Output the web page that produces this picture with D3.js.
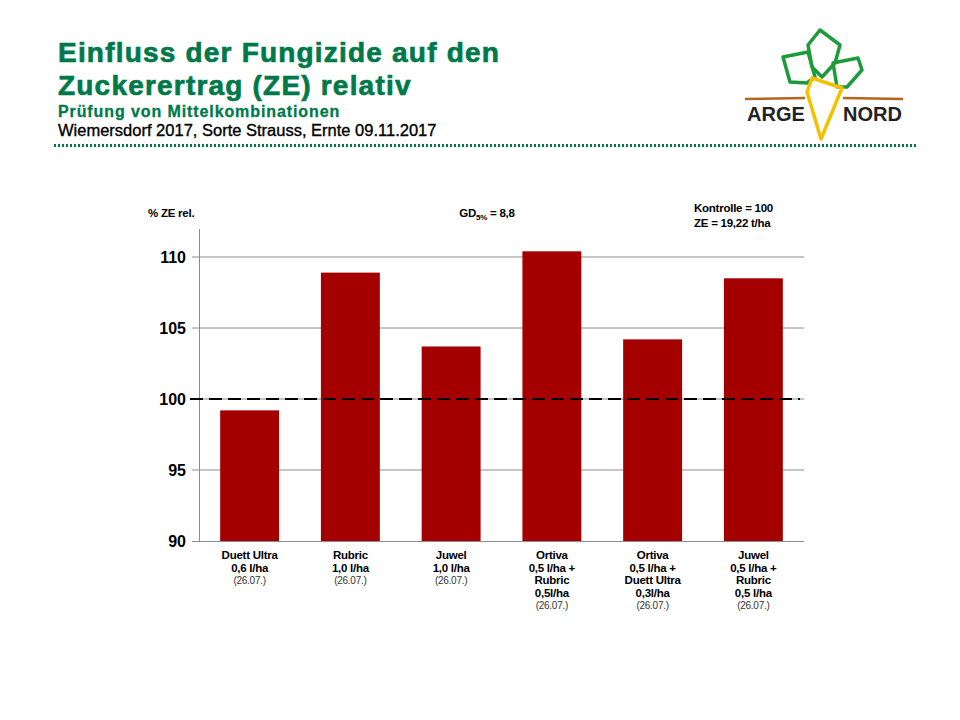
<!DOCTYPE html>
<html lang="de">
<head>
  <meta charset="UTF-8">
  <title>Einfluss der Fungizide auf den Zuckerertrag</title>
  <script src="https://d3js.org/d3.v7.min.js"></script>
  <style>
    body { margin: 0; background: #fff; }
    svg { display: block; }
    .narrow { font-family: "Liberation Sans", Arial, sans-serif; letter-spacing: -0.25px; }
  </style>
</head>
<body>
<svg width="960" height="720"></svg>
<script>
  // treatments (multi-line labels) and relative sugar yield (Kontrolle = 100)
  const labels = [
    ["Duett Ultra", "0,6 l/ha", "(26.07.)"],
    ["Rubric", "1,0 l/ha", "(26.07.)"],
    ["Juwel", "1,0 l/ha", "(26.07.)"],
    ["Ortiva", "0,5 l/ha +", "Rubric", "0,5l/ha", "(26.07.)"],
    ["Ortiva", "0,5 l/ha +", "Duett Ultra", "0,3l/ha", "(26.07.)"],
    ["Juwel", "0,5 l/ha +", "Rubric", "0,5 l/ha", "(26.07.)"]
  ];
  const values = [99.2, 108.9, 103.7, 110.4, 104.2, 108.5];
  const yTicks = [90, 95, 100, 105, 110];
  const control = 100;

  const green = "#00794a";
  const svg = d3.select("svg");

  // ---- header
  const head = svg.append("g").attr("font-family", "Liberation Sans, Arial, sans-serif").attr("font-weight", "bold");
  head.append("text").attr("x", 58).attr("y", 62).attr("fill", green).attr("stroke", green).attr("stroke-width", 0.7)
    .attr("font-size", 28).attr("letter-spacing", 1.2).text("Einfluss der Fungizide auf den");
  head.append("text").attr("x", 58).attr("y", 95).attr("fill", green).attr("stroke", green).attr("stroke-width", 0.7)
    .attr("font-size", 28).attr("letter-spacing", 1.2).text("Zuckerertrag (ZE) relativ");
  head.append("text").attr("x", 58).attr("y", 117).attr("fill", green).attr("stroke", green).attr("stroke-width", 0.3)
    .attr("font-size", 16).attr("letter-spacing", 0.9).text("Prüfung von Mittelkombinationen");
  head.append("text").attr("x", 58).attr("y", 136).attr("fill", "#000").attr("stroke", "#000").attr("stroke-width", 0.35)
    .attr("font-size", 16.5).attr("font-weight", "normal").text("Wiemersdorf 2017, Sorte Strauss, Ernte 09.11.2017");

  svg.append("line").attr("x1", 54).attr("x2", 916).attr("y1", 145.5).attr("y2", 145.5)
    .attr("stroke", green).attr("stroke-width", 3).attr("stroke-dasharray", "2,2");

  // ---- logo
  const logo = svg.append("g").attr("fill", "none").attr("stroke-linejoin", "round");
  logo.append("path").attr("d", "M745,99 L805,98 M843,98 L903,99").attr("stroke", "#b5651d").attr("stroke-width", 2.5);
  logo.append("path").attr("d", "M783,57 L808,52 L815,77 L807,83 L790,82 Z").attr("stroke", "#1e9a3a").attr("stroke-width", 3.5);
  logo.append("path").attr("d", "M808,45 L820,30 L840,45 L835,63 L822,77 L812,67 Z").attr("stroke", "#1e9a3a").attr("stroke-width", 3.5);
  logo.append("path").attr("d", "M833,63 L858,58 L862,70 L847,87 L837,87 Z").attr("stroke", "#1e9a3a").attr("stroke-width", 3.5);
  logo.append("path").attr("d", "M812,78 L842,88 L821,139 L807,92 Z").attr("stroke", "#f2c200").attr("stroke-width", 3.5);
  const lt = svg.append("g").attr("font-family", "Liberation Sans, Arial, sans-serif").attr("font-weight", "bold")
    .attr("font-size", 20).attr("fill", "#222");
  lt.append("text").attr("x", 747).attr("y", 121).text("ARGE");
  lt.append("text").attr("x", 843).attr("y", 121).text("NORD");

  // ---- chart
  const x0 = 199, x1 = 804, yTop = 229, yBot = 541;
  const x = d3.scaleBand().domain(d3.range(values.length)).range([x0, x1]).paddingInner(0.415).paddingOuter(0.21);
  const y = d3.scaleLinear().domain([90, 110]).range([yBot, 257]);

  const g = svg.append("g");

  g.selectAll(".grid").data(yTicks.filter(t => t !== 90)).enter().append("line")
    .attr("x1", x0 - 7).attr("x2", x1).attr("y1", d => y(d)).attr("y2", d => y(d))
    .attr("stroke", "#8c8c8c").attr("stroke-width", 1);

  g.append("line").attr("x1", x0 - 7).attr("x2", x1).attr("y1", yBot + 0.5).attr("y2", yBot + 0.5)
    .attr("stroke", "#8c8c8c").attr("stroke-width", 1);
  g.append("line").attr("x1", x0 + 0.5).attr("x2", x0 + 0.5).attr("y1", yTop).attr("y2", yBot)
    .attr("stroke", "#8c8c8c").attr("stroke-width", 1);

  g.selectAll(".bar").data(values).enter().append("rect")
    .attr("x", (d, i) => x(i)).attr("width", x.bandwidth())
    .attr("y", d => y(d)).attr("height", d => y(90) - y(d))
    .attr("fill", "#a50000");

  g.append("line").attr("x1", 190).attr("x2", 800).attr("y1", y(control)).attr("y2", y(control))
    .attr("stroke", "#000").attr("stroke-width", 2).attr("stroke-dasharray", "13,6");

  g.selectAll(".ytick").data(yTicks).enter().append("text")
    .attr("x", 186).attr("y", d => y(d) + 6).attr("text-anchor", "end")
    .attr("font-family", "Liberation Sans, Arial, sans-serif").attr("font-weight", "bold").attr("font-size", 16)
    .text(d => d);

  // category labels
  const cat = g.selectAll(".cat").data(labels).enter().append("text")
    .attr("class", "narrow").attr("text-anchor", "middle")
    .attr("transform", (d, i) => `translate(${x(i) + x.bandwidth() / 2},559)`);
  cat.selectAll("tspan").data(d => d).enter().append("tspan")
    .attr("x", 0).attr("y", (d, i) => i * 12.5)
    .attr("font-size", d => d.startsWith("(") ? 10 : 11.5)
    .attr("font-weight", d => d.startsWith("(") ? "normal" : "bold")
    .attr("fill", d => d.startsWith("(") ? "#333" : "#000")
    .text(d => d);

  // annotations
  const ann = g.append("g").attr("class", "narrow").attr("font-size", 11.5).attr("font-weight", "bold");
  ann.append("text").attr("x", 148).attr("y", 217).text("% ZE  rel.");
  const gd = ann.append("text").attr("x", 487).attr("y", 217).attr("text-anchor", "middle");
  gd.append("tspan").text("GD");
  gd.append("tspan").attr("font-size", 8).attr("dy", 3).text("5%");
  gd.append("tspan").attr("dy", -3).text(" = 8,8");
  ann.append("text").attr("x", 694).attr("y", 212).text("Kontrolle  = 100");
  ann.append("text").attr("x", 694).attr("y", 227).text("ZE  = 19,22 t/ha");
</script>
</body>
</html>
